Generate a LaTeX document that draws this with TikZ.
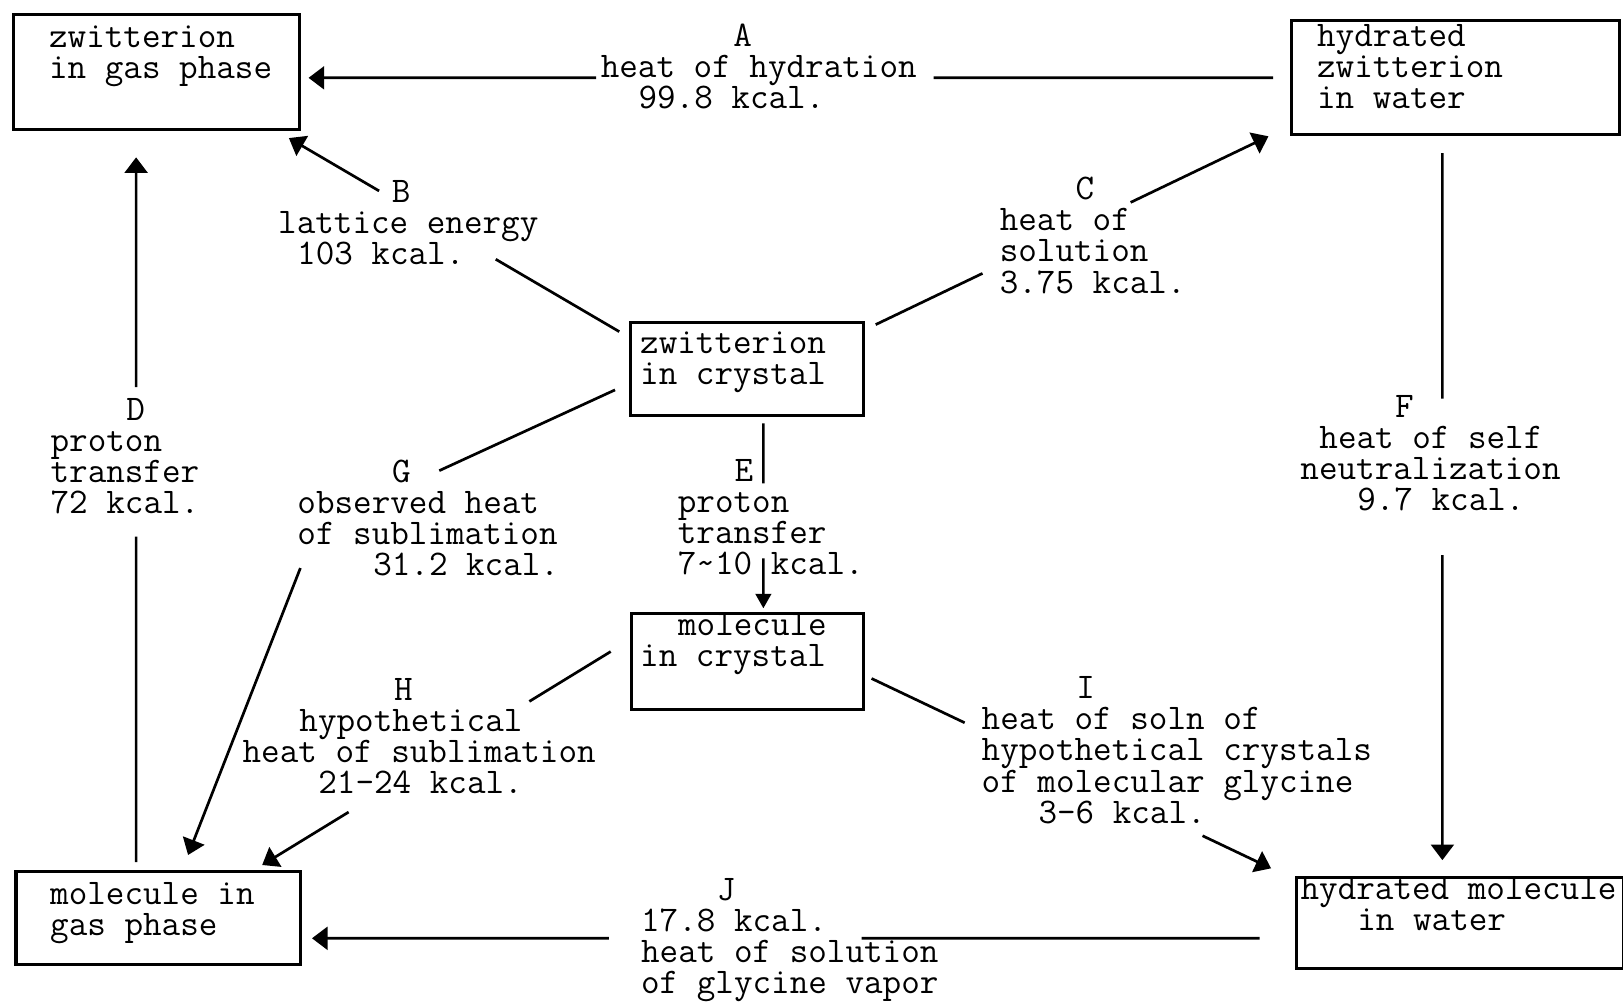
\documentclass[tikz,border=0pt]{standalone}
\usepackage{fontspec}
\usetikzlibrary{arrows.meta}
\usetikzlibrary{calc}
\newlength{\charw}
\setlength{\charw}{9.15pt}
\setlength{\lineskiplimit}{-100pt}
\tikzset{
  % A typed state box (the text sits in a \boxtxt)
  stbox/.style={draw, line width=1.5pt, inner sep=0pt, anchor=north west},
  % A typed label beside a line
  lbl/.style={inner sep=0pt, anchor=north west, align=left},
  % Lines
  link/.style={line width=1.3pt},
  arr/.style={line width=1.3pt, -{Triangle[length=7.5pt, width=11pt]}},
  arrsmall/.style={line width=1.3pt, -{Triangle[length=7pt, width=7.5pt]}},
}
% indent by n typewriter characters
\newcommand{\ind}[1]{\hspace*{#1\charw}}
% height of the first typed line
\newcommand{\firstline}{\rule{0pt}{10.5pt}}
% width, height, top gap, left gap, lines
\newcommand{\boxtxt}[5]{%
  \parbox[c][#2][t]{#1}{\vspace*{#3}\raggedright\leftskip=#4\relax\firstline #5}}
% a straight line from #2 to #3 with a gap between the fractions #4 and #5
\newcommand{\gapline}[5]{%
  \draw[#1] (#2) -- ($(#2)!#4!(#3)$) ($(#2)!#5!(#3)$) -- (#3);}

\begin{document}
\begin{tikzpicture}[x=0.5pt, y=-0.5pt, font=\ttfamily\fontsize{17.43}{15}\selectfont]
  \useasboundingbox (0,0) rectangle (1568,968);

  \node[stbox] (zgas) at (11.4,12.2) {\boxtxt{138.35pt}{55.9pt}{5.5pt}{17.3pt}{zwitterion\\in gas phase}};
  \node[stbox] (zwater) at (1246,18.7) {\boxtxt{158.5pt}{55pt}{1.75pt}{12.5pt}{hydrated\\zwitterion\\in water}};
  \node[stbox] (zcrys) at (608,310) {\boxtxt{112.25pt}{45pt}{4.7pt}{4.5pt}{zwitterion\\in crystal}};
  \node[stbox] (mcrys) at (608.5,591) {\boxtxt{112.25pt}{46.5pt}{0.2pt}{4.25pt}{\ind{2}molecule\\in crystal}};
  \node[stbox] (mgas) at (14,840.5) {\boxtxt{137.2pt}{45.1pt}{5.45pt}{16.5pt}{molecule in\\gas phase}};
  \node[stbox] (mwater) at (1251,846) {\boxtxt{158pt}{44pt}{0pt}{2pt}{hydrated molecule\\\ind{3}in water}};

  \node[lbl] (lblA) at (580,22.4) {\firstline\ind{7}A\\heat of hydration\\\ind{2}99.8 kcal.};
  \node[lbl] (lblB) at (268.4,173.6) {\firstline\ind{6}B\\lattice energy\\\ind{1}103 kcal.};
  \node[lbl] (lblC) at (965.5,171) {\firstline\ind{4}C\\heat of\\solution\\3.75 kcal.};
  \node[lbl] (lblD) at (48.5,384.6) {\firstline\ind{4}D\\proton\\transfer\\72 kcal.};
  \node[lbl] (lblE) at (654.5,443) {\firstline\ind{3}E\\proton\\transfer\\7\textasciitilde 10 kcal.};
  \node[lbl] (lblF) at (1256,381.5) {\firstline\ind{5}F\\\ind{1}heat of self\\neutralization\\\ind{3}9.7 kcal.};
  \node[lbl] (lblG) at (287,444) {\firstline\ind{5}G\\observed heat\\of sublimation\\\ind{4}31.2 kcal.};
  \node[lbl] (lblH) at (234,655) {\firstline\ind{8}H\\\ind{3}hypothetical\\heat of sublimation\\\ind{4}21-24 kcal.};
  \node[lbl] (lblI) at (948,653.5) {\firstline\ind{5}I\\heat of soln of\\hypothetical crystals\\of molecular glycine\\\ind{3}3-6 kcal.};
  \node[lbl] (lblJ) at (619,848) {\firstline\ind{4}J\\17.8 kcal.\\heat of solution\\of glycine vapor};

  % line ends
  \coordinate (a0) at ($(zwater.west)+(-16,0)$);
  \coordinate (a1) at ($(zgas.east |- a0)+(7,0)$);
  \coordinate (b0) at ($(zcrys.north west)+(-9.7,10.4)$);
  \coordinate (b1) at ($(zgas.south east)+(-12,6.4)$);
  \coordinate (c0) at ($(zcrys.north east)+(10.5,3.6)$);
  \coordinate (c1) at ($(zwater.south west)+(-20.5,0)$);
  \coordinate (d0) at ($(mgas.north west)+(117.5,-7.5)$);
  \coordinate (d1) at ($(d0 |- zgas.south)+(0,25)$);
  \coordinate (e0) at ($(zcrys.south)+(15.75,6)$);
  \coordinate (e1) at ($(e0 |- mcrys.north)+(0,-3.3)$);
  \coordinate (f0) at ($(zwater.south)+(-12.5,16.3)$);
  \coordinate (f1) at ($(f0 |- mwater.north)+(0,-15)$);
  \coordinate (g0) at ($(zcrys.west)+(-13.8,20.2)$);
  \coordinate (g1) at ($(lblG.north west)+(137.4,10.7)$);
  \coordinate (g2) at ($(lblG.north west)+(3.2,104.8)$);
  \coordinate (g3) at ($(mgas.north)+(29,-14.5)$);
  \coordinate (h0) at ($(mcrys.west)+(-18.5,-9.5)$);
  \coordinate (h1) at ($(mgas.north east)+(-38.1,-4.8)$);
  \coordinate (i0) at ($(mcrys.east)+(6,16.5)$);
  \coordinate (i1) at ($(mwater.north west)+(-23,-7.1)$);
  \coordinate (j0) at ($(mwater.west)+(-34,15)$);
  \coordinate (j1) at ($(mgas.east |- j0)+(10,0)$);

  \gapline{arr}{a0}{a1}{0.352}{0.702}
  \gapline{arr}{b0}{b1}{0.374}{0.727}
  \gapline{arr}{c0}{c1}{0.272}{0.649}
  \gapline{arr}{d0}{d1}{0.462}{0.674}
  \gapline{arrsmall}{e0}{e1}{0.324}{0.73}
  \gapline{arr}{f0}{f1}{0.347}{0.5685}
  \draw[arr] (g0) -- (g1) (g2) -- (g3);
  \gapline{arr}{h0}{h1}{0.2334}{0.752}
  \gapline{arr}{i0}{i1}{0.233}{0.8285}
  \gapline{arr}{j0}{j1}{0.420}{0.6866}

\end{tikzpicture}
\end{document}
